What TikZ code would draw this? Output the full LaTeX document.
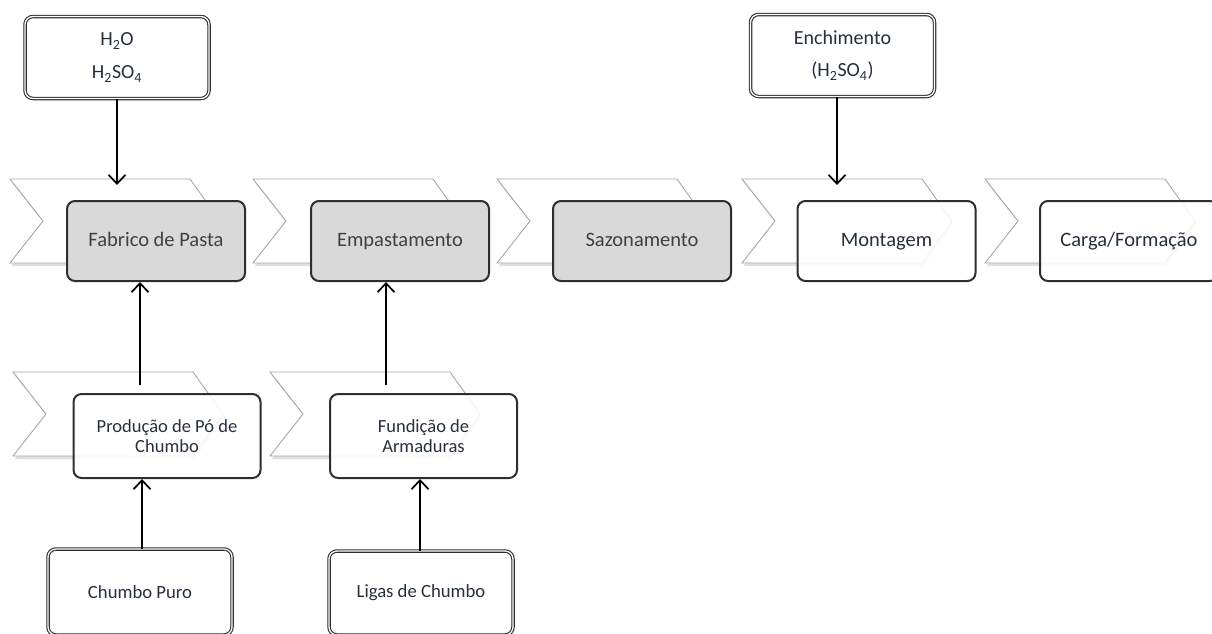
\documentclass[tikz,border=0pt]{standalone}
\usepackage{fontspec}
\setmainfont{Carlito}
\usetikzlibrary{arrows.meta,shadows}
\definecolor{boxline}{HTML}{2E2E2E}
\definecolor{grayfill}{HTML}{D9D9D9}
\definecolor{chevline}{HTML}{A6A6A6}
\definecolor{txtgray}{HTML}{404040}
\definecolor{txtdark}{HTML}{26303C}
\tikzset{
  chev/.style={draw=chevline, fill=white, line width=0.9pt, line join=miter,
    drop shadow={shadow xshift=1.5pt, shadow yshift=-3pt, opacity=0.25, fill=gray}},
  procbox/.style={draw=boxline, line width=2pt, rounded corners=8pt,
    minimum width=178pt, minimum height=80pt, align=center, inner sep=0pt},
  graybox/.style={procbox, fill=grayfill, text=txtgray, font=\fontsize{20.5}{24}\selectfont,
    text height=13pt, text depth=3pt},
  whitebox/.style={procbox, fill=white, fill opacity=0.88, text opacity=1, text=txtdark,
    font=\fontsize{20.5}{24}\selectfont, text height=13pt, text depth=3pt},
  whitebox2/.style={procbox, fill=white, fill opacity=0.88, text opacity=1, text=txtdark,
    minimum width=187pt, minimum height=84pt, font=\fontsize{18.5}{20}\selectfont},
  inbox/.style={draw=boxline, line width=1.1pt, double=white, double distance=1.3pt,
    rounded corners=8pt, fill=white, align=center, inner sep=0pt, text=txtdark,
    minimum width=184pt, minimum height=82pt},
  arr/.style={draw=black, line width=1.7pt, -{Straight Barb[length=9pt,width=17pt,line width=1.7pt]}},
}
\def\mychev(#1,#2){\draw[chev] (#1,#2) -- ++(180,0) -- ++(30,42) -- ++(-30,42) -- ++(-180,0) -- ++(33,-42) -- cycle;}
\begin{document}
\begin{tikzpicture}[x=1pt,y=-1pt]
\useasboundingbox (0,0) rectangle (1212,633);
\clip (0,0) rectangle (1212,633);
% chevrons row 1
\mychev(10,179)
\mychev(253,179)
\mychev(497,179)
\mychev(742,179)
\mychev(985,179)
% chevrons row 2
\mychev(13,372)
\mychev(270,372)
% main process boxes
\node[graybox]  (f1) at (156,241) {Fabrico de Pasta};
\node[graybox]  (f2) at (400,241) {Empastamento};
\node[graybox]  (f3) at (642,241) {Sazonamento};
\node[whitebox] (f4) at (886.5,241) {Montagem};
\node[whitebox] (f5) at (1129,241) {Carga/Formação};
% row 2 boxes
\node[whitebox2] (p1) at (167,436) {Produção de Pó de\\Chumbo};
\node[whitebox2] (p2) at (423.5,436) {Fundição de\\Armaduras};
% input boxes
\node[inbox, font=\fontsize{20}{33}\selectfont] (t1) at (117,57.5) {H\textsubscript{2}O\\H\textsubscript{2}SO\textsubscript{4}};
\node[inbox, font=\fontsize{20}{32}\selectfont] (t2) at (842.5,55.5) {Enchimento\\(H\textsubscript{2}SO\textsubscript{4})};
\node[inbox, minimum height=86pt, font=\fontsize{18.7}{21}\selectfont] (b1) at (140,592) {Chumbo Puro};
\node[inbox, minimum height=84pt, font=\fontsize{18.7}{21}\selectfont] (b2) at (421,593) {Ligas de Chumbo};
% connector end points
\coordinate (e1) at (117,185);
\coordinate (e2) at (837,185);
\coordinate (s3) at (140,385);
\coordinate (s4) at (386,385);
\coordinate (s5) at (142,549);
\coordinate (s6) at (420,551);
% connectors
\draw[arr] (t1.south) -- (e1);
\draw[arr] (t2.south -| e2) -- (e2);
\draw[arr] (s3) -- (s3 |- f1.south);
\draw[arr] (s4) -- (s4 |- f2.south);
\draw[arr] (s5) -- (s5 |- p1.south);
\draw[arr] (s6) -- (s6 |- p2.south);
\end{tikzpicture}
\end{document}
